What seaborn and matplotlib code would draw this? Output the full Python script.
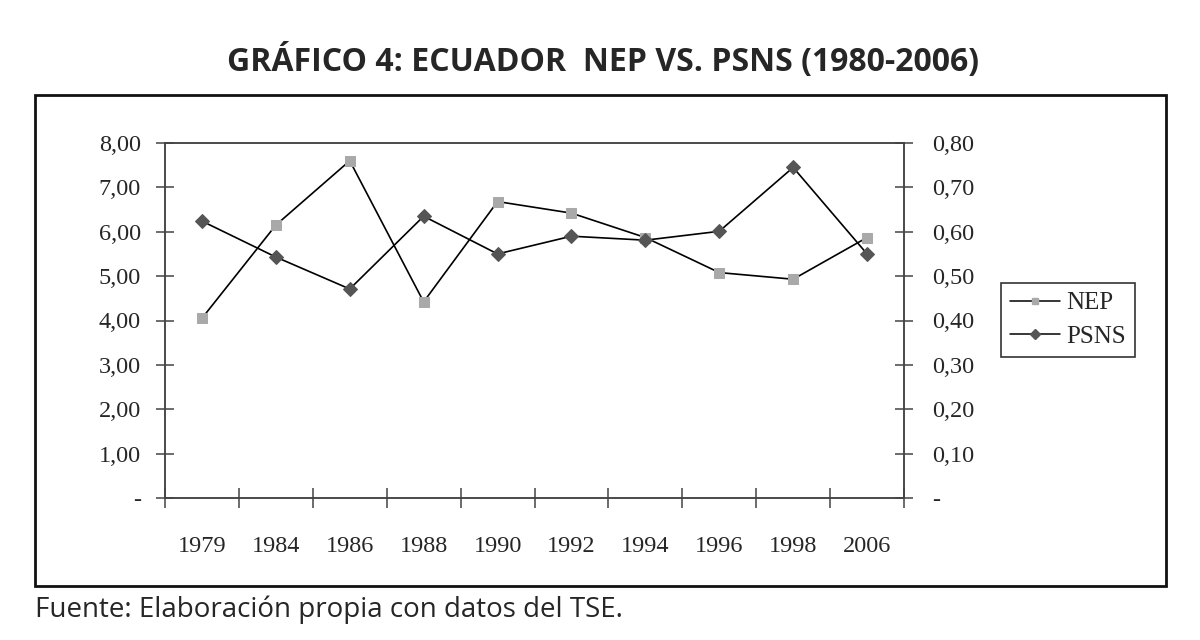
import matplotlib
matplotlib.use("Agg")
import matplotlib.pyplot as plt
import seaborn as sns
import pandas as pd
from matplotlib.lines import Line2D
from matplotlib.patches import Rectangle
from matplotlib.ticker import FixedLocator, FixedFormatter

years = ["1979", "1984", "1986", "1988", "1990", "1992", "1994", "1996", "1998", "2006"]
nep = [4.05, 6.15, 7.60, 4.42, 6.68, 6.42, 5.87, 5.08, 4.93, 5.87]
psns = [0.624, 0.543, 0.471, 0.635, 0.550, 0.590, 0.581, 0.601, 0.745, 0.550]
left_ticks = [0, 1, 2, 3, 4, 5, 6, 7, 8]
left_labels = ["-", "1,00", "2,00", "3,00", "4,00", "5,00", "6,00", "7,00", "8,00"]
right_ticks = [0, 0.1, 0.2, 0.3, 0.4, 0.5, 0.6, 0.7, 0.8]
right_labels = ["-", "0,10", "0,20", "0,30", "0,40", "0,50", "0,60", "0,70", "0,80"]
title = "GRÁFICO 4: ECUADOR  NEP VS. PSNS (1980-2006)"
source = "Fuente: Elaboración propia con datos del TSE."

df = pd.DataFrame({"year": years, "NEP": nep, "PSNS": psns})

sns.set_theme(style="white")
plt.rcParams["font.family"] = ["Liberation Serif", "DejaVu Serif"]

axis_col = "#444444"
nep_col = "#a9a9a9"
psns_col = "#555555"

fig = plt.figure(figsize=(12, 6.4), dpi=100)
ax = fig.add_axes([165/1200, 1-498/640, (904-165)/1200, (498-143)/640])
ax2 = ax.twinx()

sns.lineplot(data=df, x="year", y="NEP", ax=ax, color="black", linewidth=1.2,
             marker="s", markersize=7.5, markerfacecolor=nep_col,
             markeredgecolor=nep_col, sort=False)
sns.lineplot(data=df, x="year", y="PSNS", ax=ax2, color="black", linewidth=1.2,
             marker="D", markersize=7.5, markerfacecolor=psns_col,
             markeredgecolor=psns_col, sort=False)

n = len(years)
ax.set_xlim(-0.5, n - 0.5)
ax.set_ylim(0, 8)
ax2.set_ylim(0, 0.8)

# x: ticks at category boundaries, labels centered
ax.xaxis.set_major_locator(FixedLocator([i - 0.5 for i in range(n + 1)]))
ax.xaxis.set_major_formatter(FixedFormatter([""] * (n + 1)))
ax.xaxis.set_minor_locator(FixedLocator(list(range(n))))
ax.xaxis.set_minor_formatter(FixedFormatter(years))
ax.tick_params(axis="x", which="major", direction="inout", length=14, width=1.1,
               color=axis_col, bottom=True)
ax.tick_params(axis="x", which="minor", length=0, pad=27, labelsize=17.5, bottom=True)

ax.set_yticks(left_ticks)
ax.set_yticklabels(left_labels)
ax.tick_params(axis="y", direction="inout", length=13, width=1.1, color=axis_col,
               labelsize=17.5, pad=11, left=True)
ax2.set_yticks(right_ticks)
ax2.set_yticklabels(right_labels)
ax2.tick_params(axis="y", direction="inout", length=13, width=1.1, color=axis_col,
                labelsize=17.5, pad=14, right=True)

ax.set_xlabel("")
ax.set_ylabel("")
ax2.set_ylabel("")
for a in (ax, ax2):
    for s in a.spines.values():
        s.set_color(axis_col)
        s.set_linewidth(1.1)
    a.grid(False)

handles = [
    Line2D([], [], color="black", linewidth=1.1, marker="s", markersize=4.5,
           markerfacecolor=nep_col, markeredgecolor=nep_col),
    Line2D([], [], color="black", linewidth=1.1, marker="D", markersize=5,
           markerfacecolor=psns_col, markeredgecolor=psns_col),
]
leg = fig.legend(handles, ["NEP", "PSNS"], loc="center", bbox_to_anchor=(1068/1200, 1-320/640),
                 frameon=True, fancybox=False, edgecolor="black", fontsize=18,
                 handlelength=2.0, handletextpad=0.25, borderpad=0.35, labelspacing=0.45,
                 borderaxespad=0)
leg.get_frame().set_linewidth(1.2)

fig.patches.append(Rectangle((35/1200, 1-586/640), (1166-35)/1200, (586-95)/640,
                             transform=fig.transFigure, fill=False,
                             edgecolor="#111111", linewidth=2))

fig.text(603/1200, 1-62/640, title, ha="center", va="center", fontsize=23,
         fontweight="bold", family=["Open Sans", "DejaVu Sans"])
fig.text(35/1200, 1-610/640, source, ha="left", va="center", fontsize=20,
         family=["Open Sans", "DejaVu Sans"])

fig.savefig("out.png", dpi=100, facecolor="white")
